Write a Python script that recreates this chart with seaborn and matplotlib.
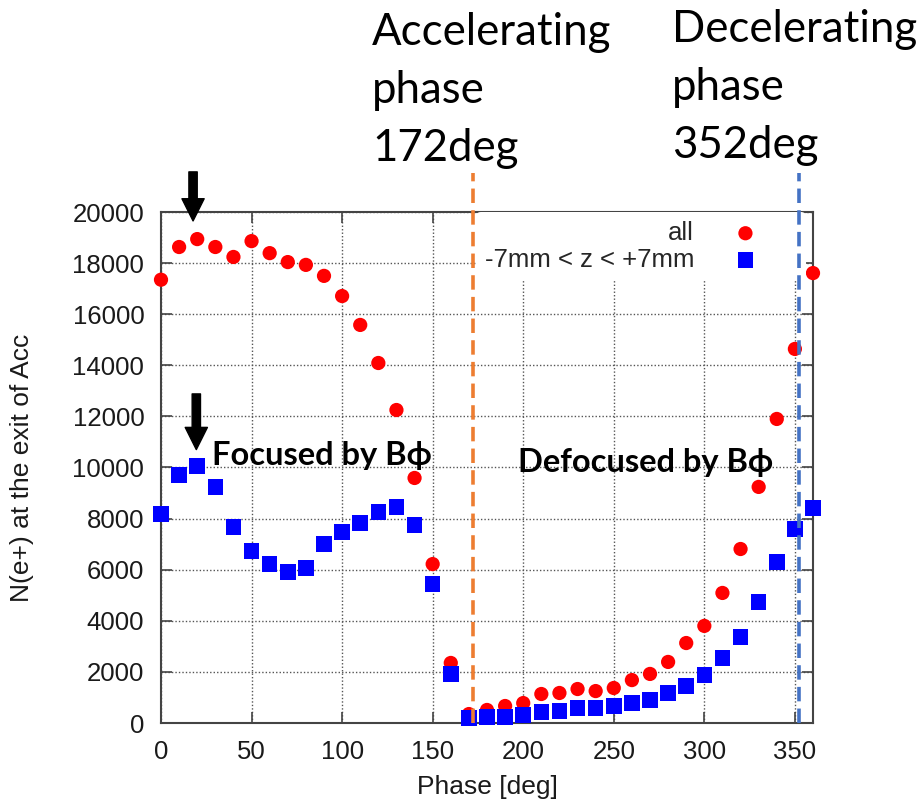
import numpy as np
import pandas as pd
import matplotlib
matplotlib.use("Agg")
import matplotlib.pyplot as plt
import seaborn as sns
from matplotlib.patches import ArrowStyle

phase = [0, 10, 20, 30, 40, 50, 60, 70, 80, 90, 100, 110, 120, 130, 140, 150, 160, 170,
         180, 190, 200, 210, 220, 230, 240, 250, 260, 270, 280, 290, 300, 310, 320, 330,
         340, 350, 360]
n_all = [17350, 18630, 18940, 18630, 18240, 18860, 18390, 18040, 17930, 17500, 16710,
         15580, 14090, 12250, 9590, 6220, 2350, 350, 510, 665, 780, 1135, 1175, 1330,
         1250, 1370, 1680, 1920, 2390, 3130, 3800, 5090, 6810, 9240, 11900, 14640, 17610]
n_z = [8180, 9700, 10060, 9240, 7670, 6730, 6220, 5910, 6070, 7010, 7480, 7830, 8260,
       8450, 7750, 5440, 1920, 200, 235, 235, 310, 430, 470, 590, 590, 665, 780, 900,
       1170, 1450, 1880, 2540, 3370, 4740, 6300, 7590, 8410]
series_labels = ["all", "-7mm < z < +7mm"]
xticks = [0, 50, 100, 150, 200, 250, 300, 350]
yticks = [0, 2000, 4000, 6000, 8000, 10000, 12000, 14000, 16000, 18000, 20000]
acc_phase = 172
dec_phase = 352
acc_lines = ["Accelerating", "phase", "172deg"]
dec_lines = ["Decelerating", "phase", "352deg"]

df = pd.DataFrame({"phase": phase, "all": n_all, "z": n_z})

sns.set_theme(style="white")
plt.rcParams["font.family"] = ["Liberation Sans", "DejaVu Sans"]

fig = plt.figure(figsize=(9.19, 8.05), dpi=100)
ax = fig.add_axes([161 / 919, 1 - 723 / 805, (813 - 161) / 919, (723 - 212) / 805])

sns.scatterplot(data=df, x="phase", y="all", ax=ax, color="#ff0000", marker="o",
                s=105, edgecolor="none", label=series_labels[0], clip_on=False, zorder=3)
sns.scatterplot(data=df, x="phase", y="z", ax=ax, color="#0000ff", marker="s",
                s=125, edgecolor="none", label=series_labels[1], clip_on=False, zorder=4)

ax.set_xlim(0, 360)
ax.set_ylim(0, 20000)
ax.set_xticks(xticks)
ax.set_yticks(yticks)
ax.set_xticklabels([str(v) for v in xticks])
ax.set_yticklabels([str(v) for v in yticks])
ax.tick_params(direction="in", length=8, width=1.2, color="#444444", top=True,
               right=True, bottom=True, left=True, labelsize=18.5, labelcolor="#1a1a1a", pad=12)
ax.grid(True, linestyle=(0, (1, 1.5)), color="#555555", linewidth=1.0)
for sp in ax.spines.values():
    sp.set_color("#444444")
    sp.set_linewidth(1.5)

ax.set_xlabel("Phase [deg]", fontsize=19, color="#1a1a1a", labelpad=8)
ax.set_ylabel("N(e+) at the exit of Acc", fontsize=19, color="#1a1a1a", labelpad=28)

leg = ax.legend(loc="upper right", bbox_to_anchor=(0.989, 1.0), markerfirst=False,
                fontsize=18.5, frameon=True, facecolor="white", edgecolor="none",
                framealpha=1, borderaxespad=0, borderpad=0.35, handlelength=4.0,
                handletextpad=0.0, labelspacing=0.1)
leg.set_zorder(5)

ax.axvline(acc_phase, ymin=0, ymax=1.077, color="#ed7d31", linestyle=(0, (4, 2)),
           linewidth=2.6, clip_on=False, zorder=6)
ax.axvline(dec_phase, ymin=0, ymax=1.077, color="#4472c4", linestyle=(0, (4, 2)),
           linewidth=2.6, clip_on=False, zorder=6)

arrow = ArrowStyle.Simple(head_length=16, head_width=16, tail_width=6)
ax.annotate("", xy=(17.7, 19650), xytext=(17.7, 21570),
            arrowprops=dict(arrowstyle=arrow, color="black", mutation_scale=1,
                            shrinkA=0, shrinkB=0), annotation_clip=False)
ax.annotate("", xy=(19.5, 10700), xytext=(19.5, 12880),
            arrowprops=dict(arrowstyle=arrow, color="black", mutation_scale=1,
                            shrinkA=0, shrinkB=0), annotation_clip=False)

bold_font = ["Lato", "DejaVu Sans"]
ax.text(28.2, 10100, "Focused by B\u03d5", fontsize=23.5, fontweight="bold",
        family=bold_font, va="baseline", ha="left", color="black", zorder=7)
ax.text(197.1, 9830, "Defocused by B\u03d5", fontsize=23.5, fontweight="bold",
        family=bold_font, va="baseline", ha="left", color="black", zorder=7)

title_font = ["Lato", "DejaVu Sans"]
for i, line in enumerate(acc_lines):
    fig.text(372 / 919, 1 - (45 + 58 * i) / 805, line, fontsize=31.5,
             family=title_font, va="baseline", ha="left", color="black")
for i, line in enumerate(dec_lines):
    fig.text(672 / 919, 1 - (42 + 58 * i) / 805, line, fontsize=31.5,
             family=title_font, va="baseline", ha="left", color="black")

fig.savefig("out.png", dpi=100)
